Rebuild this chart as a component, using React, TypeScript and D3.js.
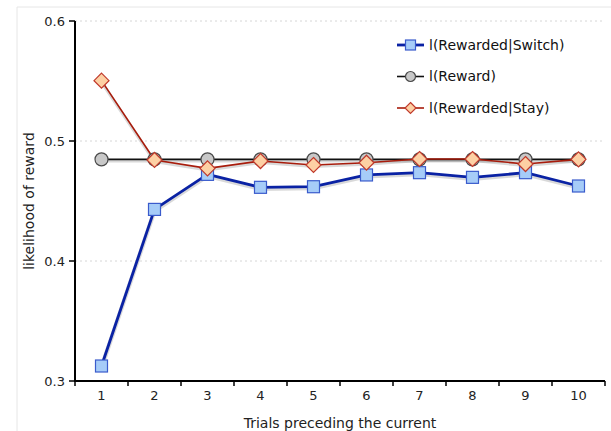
import React from "react";
import * as d3 from "d3";

const categories = ["1", "2", "3", "4", "5", "6", "7", "8", "9", "10"];
const switchValues = [0.3125, 0.443, 0.4722, 0.4614, 0.4619, 0.4717, 0.4736, 0.4697, 0.4736, 0.4625];
const rewardValues = [0.4847, 0.4847, 0.4847, 0.4847, 0.4847, 0.4847, 0.4847, 0.4847, 0.4847, 0.4847];
const stayValues = [0.5503, 0.4842, 0.4772, 0.4833, 0.48, 0.4819, 0.485, 0.485, 0.4808, 0.4847];
const yTicks = [0.3, 0.4, 0.5, 0.6];
const legendLabels = ["l(Rewarded|Switch)", "l(Reward)", "l(Rewarded|Stay)"];

const W = 611;
const H = 431;
const font = "Verdana, 'DejaVu Sans', sans-serif";

function Marker({ kind, x, y, s }: { kind: string; x: number; y: number; s: number }) {
  if (kind === "square") {
    return (
      <rect x={x - s / 2} y={y - s / 2} width={s} height={s} fill="#a6ccf8" stroke="#3a5bcc" strokeWidth={1.2} />
    );
  }
  if (kind === "circle") {
    return <circle cx={x} cy={y} r={s / 2} fill="#c8c8c8" stroke="#4a4a4a" strokeWidth={1.2} />;
  }
  const h = s / 2;
  return (
    <path
      d={`M${x},${y - h}L${x + h},${y}L${x},${y + h}L${x - h},${y}Z`}
      fill="#fdd0a4"
      stroke="#c0392b"
      strokeWidth={1.2}
    />
  );
}

export default function App() {
  const left = 75;
  const right = 605;
  const top = 21;
  const bottom = 381;
  const x = d3.scaleBand<string>().domain(categories).range([left, right]);
  const y = d3.scaleLinear().domain([0.3, 0.6]).range([bottom, top]);
  const cx = (c: string) => (x(c) as number) + x.bandwidth() / 2;

  const line = d3
    .line<number>()
    .x((_, i) => cx(categories[i]))
    .y((d) => y(d));

  const series = [
    { name: legendLabels[0], values: switchValues, color: "#0a22a4", width: 2.8, kind: "square", size: 12, lsize: 10 },
    { name: legendLabels[1], values: rewardValues, color: "#111111", width: 1.6, kind: "circle", size: 13, lsize: 10 },
    { name: legendLabels[2], values: stayValues, color: "#a81c0c", width: 1.6, kind: "diamond", size: 15, lsize: 11 },
  ];

  const drawOrder = [series[1], series[0], series[2]];

  return (
    <svg width={W} height={H} style={{ position: "absolute", left: 0, top: 0 }} fontFamily={font}>
      <rect x={0} y={0} width={W} height={H} fill="#ffffff" />
      <line x1={17} y1={7} x2={W} y2={7} stroke="#e6e6e6" />
      <line x1={17} y1={7} x2={17} y2={H} stroke="#e6e6e6" />

      {yTicks.filter((t) => t > 0.3).map((t) => (
        <line
          key={"g" + t}
          x1={left}
          x2={right}
          y1={y(t)}
          y2={y(t)}
          stroke="#d6d6d6"
          strokeDasharray="2,3"
          strokeWidth={1}
        />
      ))}

      {drawOrder.map((s) => (
        <g key={"l" + s.name}>
          <path d={line(s.values) as string} fill="none" stroke="rgba(0,0,0,0.15)" strokeWidth={s.width + 1.5} transform="translate(0,1.5)" />
          <path d={line(s.values) as string} fill="none" stroke={s.color} strokeWidth={s.width} strokeLinejoin="round" />
        </g>
      ))}
      {drawOrder.map((s) => (
        <g key={"m" + s.name}>
          {s.values.map((v, i) => (
            <Marker key={i} kind={s.kind} x={cx(categories[i])} y={y(v)} s={s.size} />
          ))}
        </g>
      ))}

      {/* y axis */}
      <line x1={left} x2={left} y1={top} y2={bottom + 1} stroke="#000" strokeWidth={2} />
      {yTicks.map((t) => (
        <g key={"yt" + t}>
          <line x1={left - 6} x2={left} y1={y(t)} y2={y(t)} stroke="#000" strokeWidth={1.5} />
          <text x={left - 10} y={y(t)} dy="0.35em" textAnchor="end" fontSize={13} fill="#222">
            {d3.format(".1f")(t)}
          </text>
        </g>
      ))}

      {/* x axis */}
      <line x1={left} x2={right} y1={bottom} y2={bottom} stroke="#000" strokeWidth={2} />
      {categories.map((c) => (
        <line
          key={"xt" + c}
          x1={(x(c) as number) + x.bandwidth()}
          x2={(x(c) as number) + x.bandwidth()}
          y1={bottom}
          y2={bottom + 5}
          stroke="#000"
          strokeWidth={1.5}
        />
      ))}
      <line x1={left} x2={left} y1={bottom} y2={bottom + 5} stroke="#000" strokeWidth={1.5} />
      {categories.map((c) => (
        <text key={"xl" + c} x={cx(c)} y={400} textAnchor="middle" fontSize={13} fill="#222">
          {c}
        </text>
      ))}

      <text x={(left + right) / 2} y={428} textAnchor="middle" fontSize={14} fill="#222">
        Trials preceding the current
      </text>
      <text
        transform={`translate(34,${(top + bottom) / 2}) rotate(-90)`}
        textAnchor="middle"
        fontSize={14}
        fill="#222"
      >
        likelihood of reward
      </text>

      {/* legend */}
      {series.map((s, i) => {
        const ly = 45 + i * 31.5;
        return (
          <g key={"lg" + s.name}>
            <line x1={397} x2={424} y1={ly} y2={ly} stroke={s.color} strokeWidth={s.width} />
            <Marker kind={s.kind} x={410.5} y={ly} s={s.lsize} />
            <text x={429} y={ly} dy="0.35em" fontSize={14} fill="#111">
              {s.name}
            </text>
          </g>
        );
      })}
    </svg>
  );
}
